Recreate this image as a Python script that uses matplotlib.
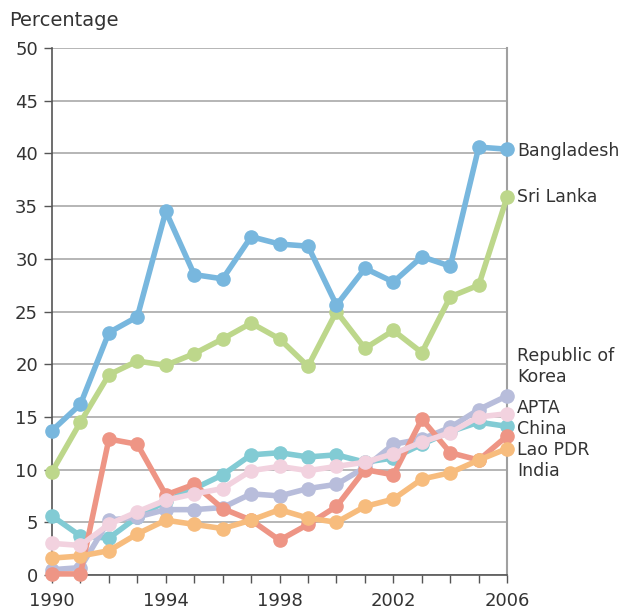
import matplotlib
matplotlib.use("Agg")
import matplotlib.pyplot as plt

years = list(range(1990, 2007))
bangladesh = [13.7, 16.2, 23.0, 24.5, 34.5, 28.5, 28.1, 32.1, 31.4, 31.2, 25.6, 29.1, 27.8, 30.2, 29.3, 40.6, 40.4]
sri_lanka = [9.8, 14.5, 19.0, 20.3, 19.9, 21.0, 22.4, 23.9, 22.4, 19.8, 25.0, 21.5, 23.2, 21.1, 26.4, 27.5, 35.9]
korea = [0.5, 0.7, 5.2, 5.5, 6.2, 6.2, 6.4, 7.7, 7.5, 8.2, 8.6, 10.2, 12.4, 12.9, 14.0, 15.7, 17.0]
apta = [3.0, 2.8, 4.8, 6.0, 7.1, 7.7, 8.2, 9.9, 10.3, 9.9, 10.3, 10.7, 11.5, 12.6, 13.5, 15.0, 15.3]
china = [5.6, 3.7, 3.5, 5.5, 7.0, 8.2, 9.5, 11.4, 11.6, 11.2, 11.4, 10.7, 11.1, 12.4, 13.6, 14.5, 14.1]
lao = [0.1, 0.1, 12.9, 12.4, 7.6, 8.6, 6.3, 5.2, 3.3, 4.8, 6.5, 10.0, 9.5, 14.8, 11.6, 10.9, 13.2]
india = [1.6, 1.8, 2.3, 3.9, 5.2, 4.8, 4.4, 5.2, 6.2, 5.4, 5.0, 6.5, 7.2, 9.1, 9.7, 10.9, 12.0]

series = [
    ("China", china, "#82cbd4"),
    ("Republic of Korea", korea, "#b8bddb"),
    ("Lao PDR", lao, "#ee9585"),
    ("India", india, "#f7bc7d"),
    ("APTA", apta, "#f2d2df"),
    ("Sri Lanka", sri_lanka, "#bdd78b"),
    ("Bangladesh", bangladesh, "#78b7de"),
]

end_labels = [
    ("Bangladesh", 40.2),
    ("Sri Lanka", 35.9),
    ("Republic of\nKorea", 19.8),
    ("APTA", 15.85),
    ("China", 13.85),
    ("Lao PDR", 11.85),
    ("India", 9.85),
]

plt.rcParams['font.family'] = ['DejaVu Sans']

fig = plt.figure(figsize=(6.34, 6.12), dpi=100)
ax = fig.add_axes([0.082, 0.0605, 0.718, 0.861])

for name, vals, col in series:
    ax.plot(years, vals, color=col, lw=4.0, marker='o', ms=9.5, clip_on=False,
            solid_capstyle='round', solid_joinstyle='round', zorder=3)

ax.set_xlim(1990, 2006)
ax.set_ylim(0, 50)
ax.set_yticks(range(0, 51, 5))
ax.set_xticks(years)
ax.set_xticklabels([str(y) if (y - 1990) % 4 == 0 else "" for y in years])
ax.yaxis.grid(True, color="#b0b0b0", lw=1.3)
ax.set_axisbelow(True)

for s in ["left", "bottom"]:
    ax.spines[s].set_color("#555555")
    ax.spines[s].set_linewidth(1.2)
ax.spines["right"].set_color("#a0a0a0")
ax.spines["right"].set_linewidth(1.5)
ax.spines["top"].set_visible(False)

fs = 12.5
ax.tick_params(axis='both', direction='out', length=6, width=1, color="#555555",
               labelsize=13, labelcolor="#333333", pad=4)
ax.tick_params(axis='x', pad=6)

ax.text(-0.095, 1.035, "Percentage", transform=ax.transAxes, fontsize=14,
        color="#333333", ha='left', va='bottom')

for lab, yv in end_labels:
    ax.annotate(lab, xy=(1, yv), xycoords=('axes fraction', 'data'),
                xytext=(7, 0), textcoords='offset points', fontsize=fs,
                color="#333333", va='center', ha='left', linespacing=1.25,
                annotation_clip=False)

fig.savefig("out.png", dpi=100)
